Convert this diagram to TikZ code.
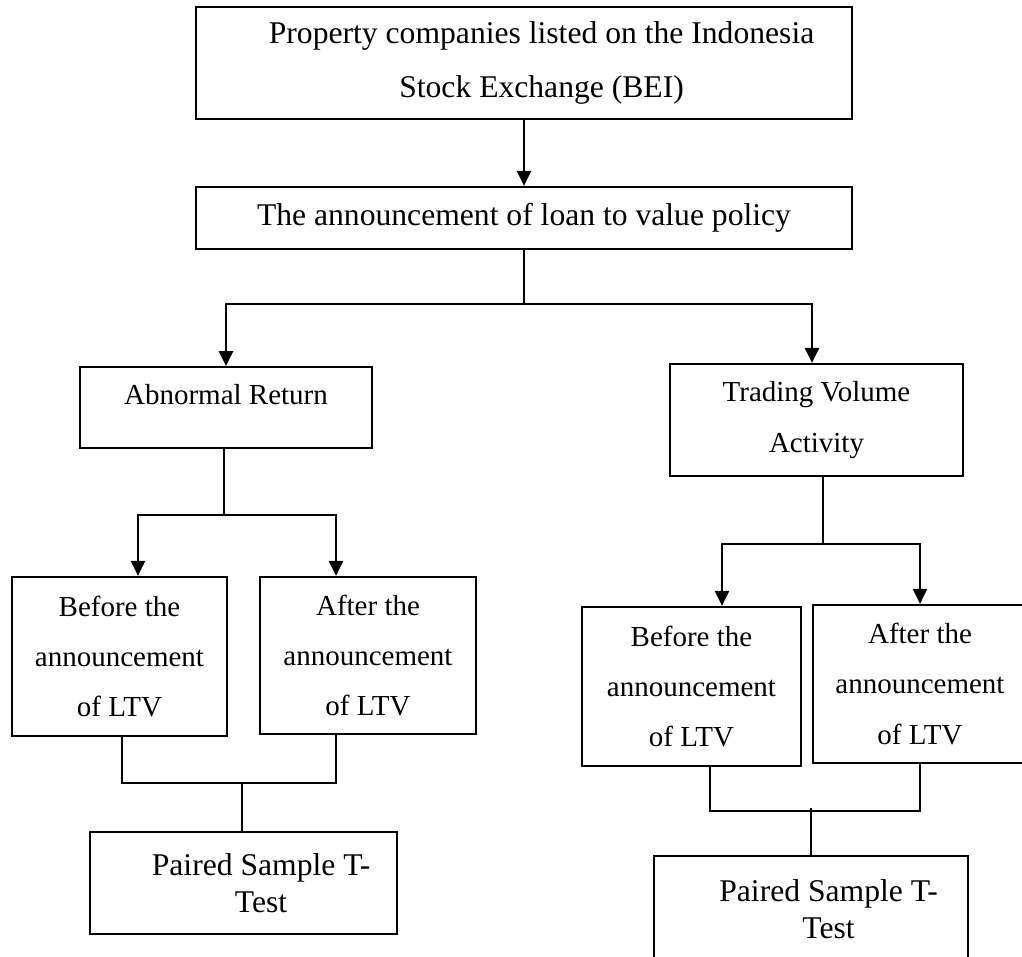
\documentclass[tikz,border=0pt]{standalone}
\usepackage{fontspec}
\setmainfont{Liberation Serif}
\usetikzlibrary{arrows.meta, positioning}

\begin{document}
\begin{tikzpicture}[x=0.02cm, y=-0.02cm, line width=1.3pt,
    box/.style={draw, rectangle, inner sep=0pt, align=center},
    headtext/.style={font=\fontsize{18}{31}\selectfont},
    pairtext/.style={font=\fontsize{18}{21}\selectfont},
    bodytext/.style={font=\fontsize{16.5}{28.6}\selectfont},
    arr/.style={-{Triangle[width=8pt,length=8.5pt]}}]

    \clip (0,0) rectangle (1022,957);

    % top
    \node[box, headtext, minimum width=13.12cm, minimum height=2.24cm] (bei) at (524,63)
        {\hspace*{20pt}Property companies listed on the Indonesia\\\hspace*{20pt}Stock Exchange (BEI)};
    \node[box, headtext, minimum width=13.12cm, minimum height=1.24cm] (ltv) at (524,218)
        {The announcement of loan to value policy};
    \draw[arr] (bei) -- (ltv);

    % two branches
    \node[box, bodytext, minimum width=5.84cm, text height=21.3pt, text depth=24.6pt] (abn) at (226,407.5)
        {Abnormal Return};
    \node[box, bodytext, minimum width=5.86cm, minimum height=2.24cm] (tva) at (816.5,420)
        {Trading Volume\\Activity};
    \coordinate (forkltv) at (ltv.south |- 0,304);
    \draw (ltv.south) -- (forkltv);
    \draw[arr] (forkltv) -| (abn.north);
    \draw[arr] (forkltv) -| ([xshift=-0.09cm]tva.north);

    % abnormal return
    \node[box, bodytext, minimum width=4.3cm, minimum height=3.18cm] (befA) at (119.5,656.5)
        {Before the\\announcement\\of LTV};
    \node[box, bodytext, minimum width=4.32cm, minimum height=3.14cm] (aftA) at (368,655.5)
        {After the\\announcement\\of LTV};
    \node[box, pairtext, minimum width=6.14cm, minimum height=2.04cm] (pairA) at (243.5,883)
        {\hspace*{20pt}Paired Sample T-\\\hspace*{20pt}Test};
    \coordinate (forkabn) at ([xshift=-0.04cm]abn.south |- 0,515);
    \draw ([xshift=-0.04cm]abn.south) -- (forkabn);
    \draw[arr] (forkabn) -| ([xshift=0.37cm]befA.north);
    \draw[arr] (forkabn) -| ([xshift=-0.64cm]aftA.north);
    \coordinate (joinA) at ([xshift=-0.03cm]pairA.north |- 0,783);
    \draw ([xshift=0.05cm]befA.south) |- (joinA) -| ([xshift=-0.64cm]aftA.south);
    \draw (joinA) -- ([xshift=-0.03cm]pairA.north);

    % trading volume activity
    \node[box, bodytext, minimum width=4.38cm, minimum height=3.18cm] (befB) at (691.5,686.5)
        {Before the\\announcement\\of LTV};
    \node[box, bodytext, minimum width=4.28cm, minimum height=3.16cm] (aftB) at (920,684)
        {After the\\announcement\\of LTV};
    \node[box, pairtext, minimum width=6.28cm, minimum height=2.12cm] (pairB) at (811,909)
        {\hspace*{20pt}Paired Sample T-\\\hspace*{20pt}Test};
    \coordinate (forktva) at ([xshift=0.13cm]tva.south |- 0,544);
    \draw ([xshift=0.13cm]tva.south) -- (forktva);
    \draw[arr] (forktva) -| ([xshift=0.61cm]befB.north);
    \draw[arr] (forktva) -| (aftB.north);
    \coordinate (joinB) at (pairB.north |- 0,811);
    \draw ([xshift=0.37cm]befB.south) |- (joinB) -| (aftB.south);
    \draw ([yshift=0.06cm]joinB) -- (pairB.north);
\end{tikzpicture}
\end{document}
